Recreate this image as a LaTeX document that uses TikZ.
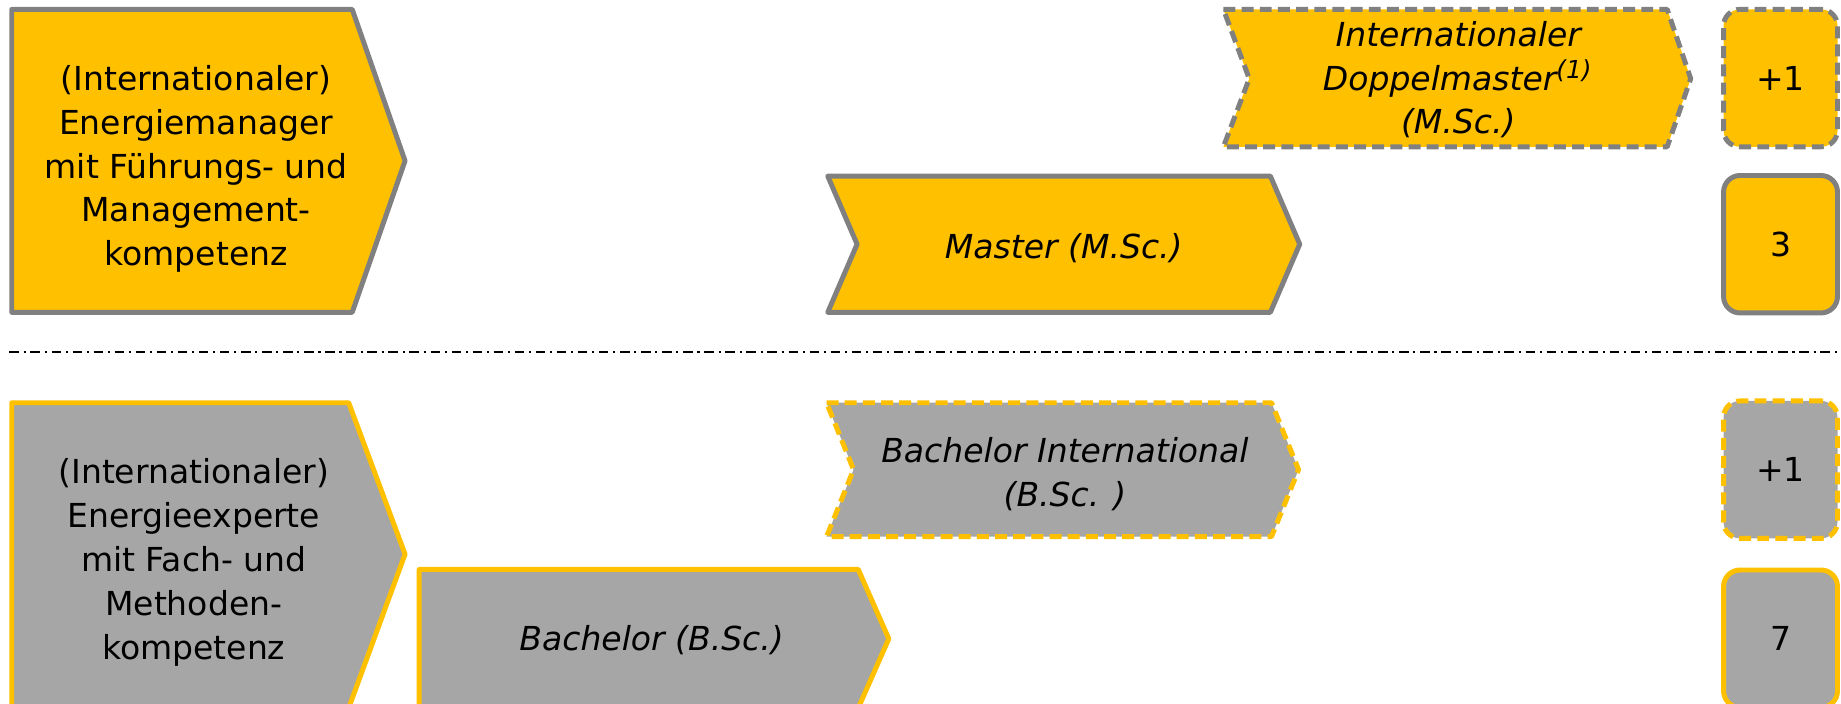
\documentclass[tikz,border=0pt]{standalone}
\usepackage{fontspec}
\setmainfont{DejaVu Sans}
\definecolor{gelb}{HTML}{FFC000}
\definecolor{grau}{HTML}{A6A6A6}
\definecolor{rand}{HTML}{808080}
\tikzset{
	oben/.style={fill=gelb, draw=rand, line width=1.2pt, line join=round},
	unten/.style={fill=grau, draw=gelb, line width=1.2pt, line join=round},
	gestrichelt/.style={dash pattern=on 2.9pt off 1.5pt},
	txt/.style={align=center, inner sep=0pt, font=\fontsize{8}{10.6}\selectfont},
	kursiv/.style={align=center, inner sep=0pt, font=\fontsize{8}{10.6}\selectfont\itshape},
	zahl/.style={rounded corners=4pt, minimum width=0.97cm, minimum height=1.17cm, inner sep=0pt, font=\fontsize{8}{10.6}\selectfont}
}
\begin{document}
\begin{tikzpicture}[x=0.01cm, y=-0.01cm]
	\useasboundingbox (0,0) rectangle (1568,599);
	% Master-Ebene
	\draw[oben] (10,8) -- (300,8) -- (345,137) -- (300,266) -- (10,266) -- cycle;
	\node[txt] (manager) at (167,144) {(Internationaler)\\Energiemanager\\mit Führungs- und\\Management-\\kompetenz};
	\draw[oben] (705,150) -- (1082,150) -- (1107,208) -- (1082,266) -- (705,266) -- (730,208) -- cycle;
	\node[kursiv] (master) at (906,211) {Master (M.Sc.)};
	\draw[oben][gestrichelt] (1042,8) -- (1420,8) -- (1440,67) -- (1420,125) -- (1042,125) -- (1064,67) -- cycle;
	\node[kursiv] (doppel) at (1242,68) {Internationaler\\Doppelmaster\textsuperscript{(1)}\\(M.Sc.)};
	\node[zahl, oben, gestrichelt] (plusM) at (1516.5,66.5) {+1};
	\node[zahl, oben] (drei) at (1516.5,208) {3};
	% Trennlinie
	\coordinate (links) at (8,300);
	\coordinate (rechts) at (1568,300);
	\draw[black, line width=0.6pt, dash pattern=on 2.3pt off 1.15pt on 0.5pt off 1.15pt] (links) -- (rechts);
	% Bachelor-Ebene
	\draw[unten] (10,343) -- (297,343) -- (345,472) -- (297,603) -- (10,603) -- cycle;
	\node[txt] (experte) at (165,479) {(Internationaler)\\Energieexperte\\mit Fach- und\\Methoden-\\kompetenz};
	\draw[unten][gestrichelt] (704,343) -- (1083,343) -- (1106,400) -- (1083,457) -- (704,457) -- (727,400) -- cycle;
	\node[kursiv] (bachint) at (907,404) {Bachelor International\\(B.Sc. )};
	\draw[unten] (357,485) -- (731,485) -- (757,544) -- (731,603) -- (357,603) -- cycle;
	\node[kursiv] (bachelor) at (555,545) {Bachelor (B.Sc.)};
	\node[zahl, unten, gestrichelt] (plusB) at (1516.5,400) {+1};
	\node[zahl, unten] (sieben) at (1516.5,544) {7};
\end{tikzpicture}
\end{document}
